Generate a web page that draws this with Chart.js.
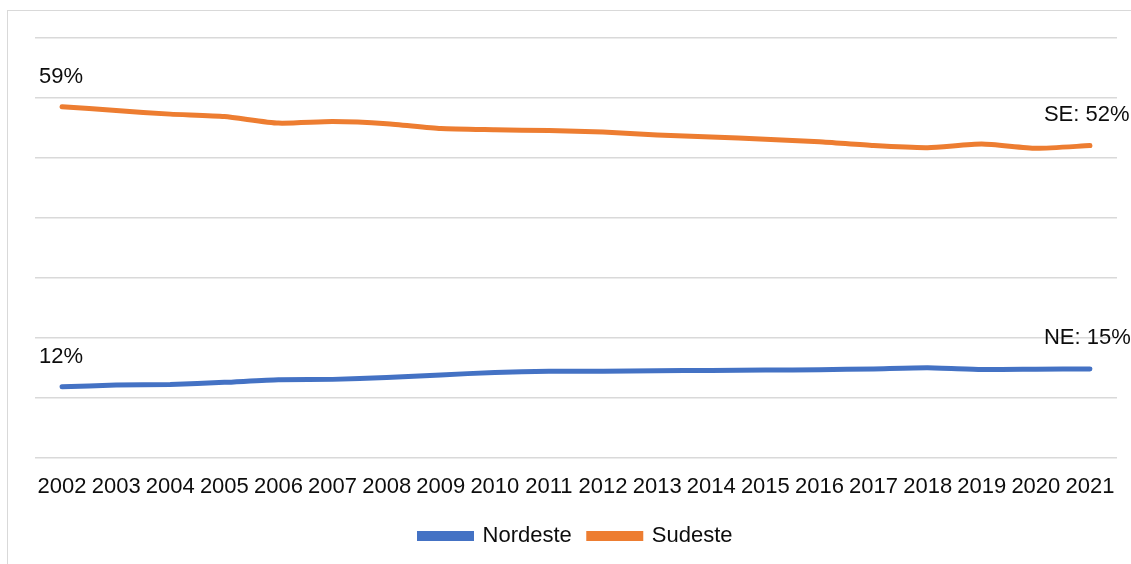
<!DOCTYPE html>
<html>
<head>
<meta charset="utf-8">
<script src="https://cdn.jsdelivr.net/npm/chart.js@4.4.1/dist/chart.umd.min.js"></script>
<style>
  html, body { margin: 0; padding: 0; background: #fff; overflow: hidden; }
  #wrap { position: relative; width: 1131px; height: 564px; }
  #frame {
    position: absolute; left: 7px; top: 10px; width: 1200px; height: 700px;
    border: 1.5px solid #d9d9d9; box-sizing: border-box;
  }
  #chart { position: absolute; left: 0; top: 0; }
</style>
</head>
<body>
<div id="wrap">
  <div id="frame"></div>
  <canvas id="chart" width="1131" height="564"></canvas>
</div>
<script>
const anos = ["2002", "2003", "2004", "2005", "2006", "2007", "2008", "2009", "2010", "2011",
  "2012", "2013", "2014", "2015", "2016", "2017", "2018", "2019", "2020", "2021"];

const nordeste = [11.8, 12.1, 12.2, 12.55, 13.0, 13.05, 13.35, 13.8, 14.2, 14.4,
  14.4, 14.5, 14.55, 14.6, 14.65, 14.8, 15.0, 14.7, 14.75, 14.8];

const sudeste = [58.55, 57.9, 57.3, 56.9, 55.8, 56.05, 55.7, 54.9, 54.7, 54.55,
  54.3, 53.8, 53.5, 53.1, 52.7, 52.05, 51.7, 52.3, 51.6, 52.05];

// rótulos de início e fim de cada série
const rotulosInicio = ["12%", "59%"];
const rotulosFim = ["NE: 15%", "SE: 52%"];

const fonte = "'Liberation Sans', Arial, sans-serif";

const rotulosPlugin = {
  id: "rotulos",
  afterDatasetsDraw(chart) {
    const ctx = chart.ctx;
    const x = chart.scales.x;
    const y = chart.scales.y;
    ctx.save();
    ctx.font = "22px " + fonte;
    ctx.fillStyle = "#0d0d0d";
    ctx.textBaseline = "middle";
    ctx.textAlign = "left";
    chart.data.datasets.forEach((ds, i) => {
      const ult = ds.data.length - 1;
      ctx.fillText(rotulosInicio[i], x.getPixelForValue(0) - 23, y.getPixelForValue(ds.data[0]) - 30);
      ctx.fillText(rotulosFim[i], x.getPixelForValue(ult) - 46, y.getPixelForValue(ds.data[ult]) - 31);
    });
    ctx.restore();
  },
};

new Chart(document.getElementById("chart"), {
  type: "line",
  data: {
    labels: anos,
    datasets: [
      {
        label: "Nordeste",
        data: nordeste,
        borderColor: "#4472c4",
        backgroundColor: "#4472c4",
        borderWidth: 5,
        borderCapStyle: "round",
        pointRadius: 0,
        tension: 0.2,
      },
      {
        label: "Sudeste",
        data: sudeste,
        borderColor: "#ed7d31",
        backgroundColor: "#ed7d31",
        borderWidth: 5,
        borderCapStyle: "round",
        pointRadius: 0,
        tension: 0.2,
      },
    ],
  },
  options: {
    responsive: false,
    animation: false,
    layout: {
      padding: { left: 35, right: 14, top: 38, bottom: 7 },
    },
    plugins: {
      legend: {
        position: "bottom",
        labels: {
          boxWidth: 52,
          boxHeight: 5,
          padding: 17,
          color: "#0d0d0d",
          font: { family: fonte, size: 22 },
        },
      },
      tooltip: { enabled: false },
    },
    scales: {
      x: {
        offset: true,
        grid: { display: false },
        border: { display: false },
        ticks: {
          color: "#0d0d0d",
          padding: 8,
          maxRotation: 0,
          autoSkip: false,
          font: { family: fonte, size: 22 },
        },
      },
      y: {
        min: 0,
        max: 70,
        ticks: { display: false, stepSize: 10 },
        grid: { color: "#d9d9d9", lineWidth: 1.5, drawTicks: false },
        border: { display: false },
      },
    },
  },
  plugins: [rotulosPlugin],
});
</script>
</body>
</html>
